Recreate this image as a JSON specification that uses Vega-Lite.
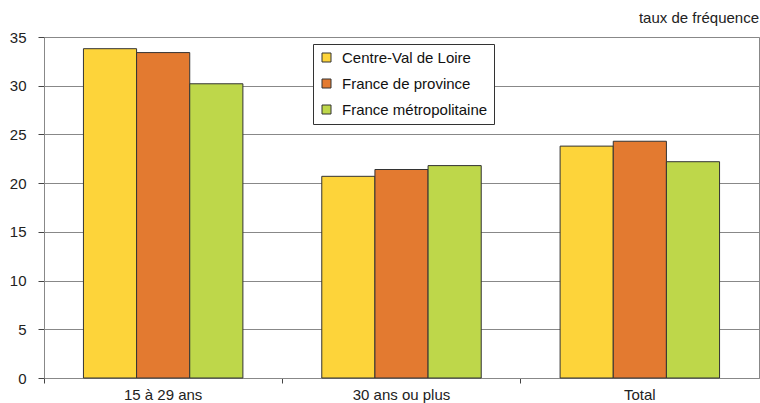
{
  "$schema": "https://vega.github.io/schema/vega-lite/v6.json",
  "width": 715,
  "height": 341,
  "autosize": {"type": "none"},
  "padding": {"left": 44, "top": 37, "right": 1, "bottom": 25},
  "background": "white",
  "title": {"text": "taux de fréquence", "anchor": "end", "frame": "group", "fontSize": 15, "fontWeight": "normal", "font": "Liberation Sans", "color": "#222", "offset": 4},
  "data": {"values": [
    {"groupe": "15 à 29 ans", "zone": "Centre-Val de Loire", "taux": 33.8},
    {"groupe": "15 à 29 ans", "zone": "France de province", "taux": 33.4},
    {"groupe": "15 à 29 ans", "zone": "France métropolitaine", "taux": 30.2},
    {"groupe": "30 ans ou plus", "zone": "Centre-Val de Loire", "taux": 20.7},
    {"groupe": "30 ans ou plus", "zone": "France de province", "taux": 21.4},
    {"groupe": "30 ans ou plus", "zone": "France métropolitaine", "taux": 21.8},
    {"groupe": "Total", "zone": "Centre-Val de Loire", "taux": 23.8},
    {"groupe": "Total", "zone": "France de province", "taux": 24.3},
    {"groupe": "Total", "zone": "France métropolitaine", "taux": 22.2}
  ]},
  "mark": {"type": "bar", "stroke": "#333", "strokeWidth": 1},
  "encoding": {
    "x": {"field": "groupe", "type": "nominal", "sort": null,
      "scale": {"paddingInner": 0, "paddingOuter": 0},
      "axis": {"title": null, "labelAngle": 0, "bandPosition": 0, "tickSize": 5, "labelPadding": 4, "domainColor": "#888", "tickColor": "#444", "labelFontSize": 15, "labelColor": "#222", "labelFont": "Liberation Sans"}},
    "xOffset": {"field": "zone", "type": "nominal", "sort": null, "scale": {"paddingInner": 0, "paddingOuter": 0.742}},
    "y": {"field": "taux", "type": "quantitative",
      "scale": {"domain": [0, 35], "nice": false},
      "axis": {"title": null, "values": [0, 5, 10, 15, 20, 25, 30, 35], "tickSize": 6, "labelPadding": 12, "domainColor": "#888", "tickColor": "#444", "gridColor": "#888", "gridOpacity": 1, "labelFontSize": 15, "labelColor": "#222", "labelFont": "Liberation Sans"}},
    "color": {"field": "zone", "type": "nominal", "sort": null,
      "scale": {"domain": ["Centre-Val de Loire", "France de province", "France métropolitaine"], "range": ["#FDD43A", "#E37A30", "#BED74A"]},
      "legend": {"title": null, "orient": "none", "legendX": 269, "legendY": 7, "fillColor": "white", "strokeColor": "#333", "padding": 6, "rowPadding": 10, "symbolType": "square", "symbolSize": 81, "symbolStrokeColor": "#333", "symbolStrokeWidth": 1, "labelFontSize": 15, "labelColor": "#111", "labelFont": "Liberation Sans", "labelOffset": 8}}
  },
  "config": {"view": {"stroke": "#888", "strokeWidth": 1}}
}
